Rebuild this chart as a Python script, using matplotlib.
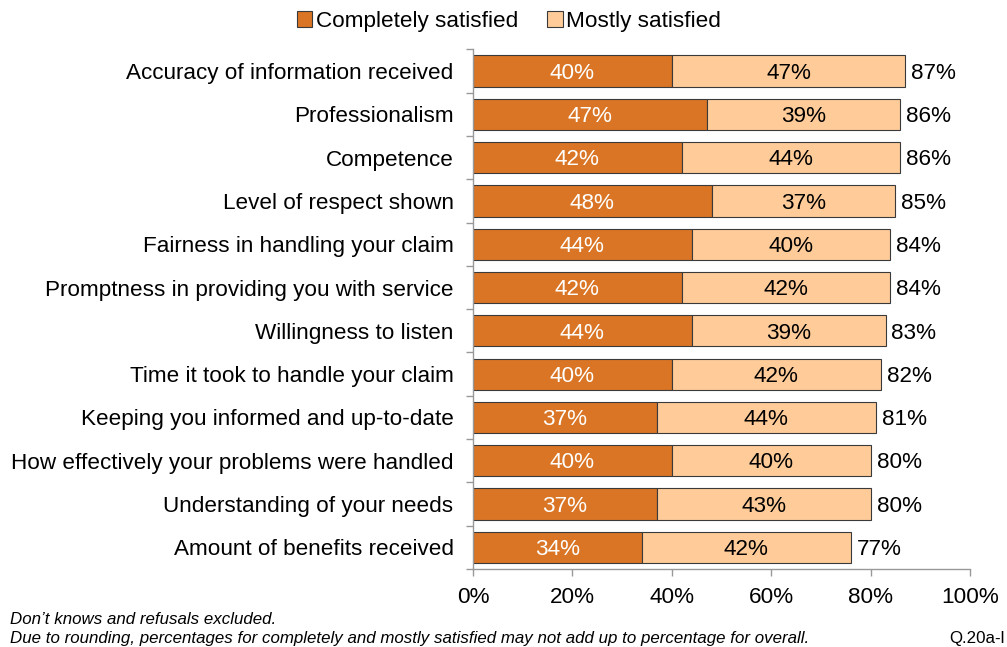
import matplotlib
matplotlib.use("Agg")
import matplotlib.pyplot as plt
import numpy as np

categories = [
    "Accuracy of information received",
    "Professionalism",
    "Competence",
    "Level of respect shown",
    "Fairness in handling your claim",
    "Promptness in providing you with service",
    "Willingness to listen",
    "Time it took to handle your claim",
    "Keeping you informed and up-to-date",
    "How effectively your problems were handled",
    "Understanding of your needs",
    "Amount of benefits received",
]
completely = [40, 47, 42, 48, 44, 42, 44, 40, 37, 40, 37, 34]
mostly = [47, 39, 44, 37, 40, 42, 39, 42, 44, 40, 43, 42]
overall = [87, 86, 86, 85, 84, 84, 83, 82, 81, 80, 80, 77]
xticks = [0, 20, 40, 60, 80, 100]

plt.rcParams['font.family'] = ['Liberation Sans', 'DejaVu Sans']

fig = plt.figure(figsize=(10.07, 6.47), dpi=100)
ax = fig.add_axes([473/1007, 1 - 569/647, (970 - 473)/1007, (569 - 49.4)/647])

dark = '#D97524'
light = '#FFCC99'
edge = '#3a3a3a'
y = np.arange(len(categories))
h = 0.72
b1 = ax.barh(y, completely, height=h, color=dark, edgecolor=edge, linewidth=0.8,
             label='Completely satisfied')
b2 = ax.barh(y, mostly, left=completely, height=h, color=light, edgecolor=edge,
             linewidth=0.8, label='Mostly satisfied')

fs = 16.2
for i in range(len(categories)):
    ax.text(completely[i] / 2, y[i] + 0.05, f"{completely[i]}%", ha='center', va='center',
            color='white', fontsize=fs)
    ax.text(completely[i] + mostly[i] / 2, y[i] + 0.05, f"{mostly[i]}%", ha='center',
            va='center', color='black', fontsize=fs)
    ax.text(completely[i] + mostly[i] + 1.2, y[i] + 0.05, f"{overall[i]}%", ha='left',
            va='center', color='black', fontsize=fs)

ax.set_xlim(0, 100)
ax.set_ylim(len(categories) - 0.5, -0.5)
ax.set_xticks(xticks)
ax.set_xticklabels([f"{t}%" for t in xticks], fontsize=fs)
ax.set_yticks(y)
ax.set_yticklabels(categories, fontsize=fs)
ax.tick_params(axis='y', length=0, pad=14)
ax.set_yticks(np.arange(-0.5, len(categories), 1), minor=True)
ax.tick_params(axis='y', which='minor', length=5, color='#999999', width=1)
ax.tick_params(axis='x', length=5, color='#999999', width=1, pad=8)
for s in ['top', 'right']:
    ax.spines[s].set_visible(False)
for s in ['left', 'bottom']:
    ax.spines[s].set_color('#999999')
    ax.spines[s].set_linewidth(1)

fig.legend(handles=[b1, b2], loc='center', bbox_to_anchor=(509/1007, 1 - 21/647),
           ncol=2, frameon=False, fontsize=fs, handlelength=0.7, handleheight=0.7,
           handletextpad=0.15, columnspacing=1.3)

fs2 = 12.2
fig.text(10/1007, 1 - 620/647, "Don\u2019t knows and refusals excluded.", fontsize=fs2,
         style='italic', va='center', ha='left')
fig.text(10/1007, 1 - 638/647,
         "Due to rounding, percentages for completely and mostly satisfied may not add up to percentage for overall.",
         fontsize=fs2, style='italic', va='center', ha='left')
fig.text(1005/1007, 1 - 638/647, "Q.20a-l", fontsize=fs2, va='center', ha='right')

fig.savefig('out.png', dpi=100)
